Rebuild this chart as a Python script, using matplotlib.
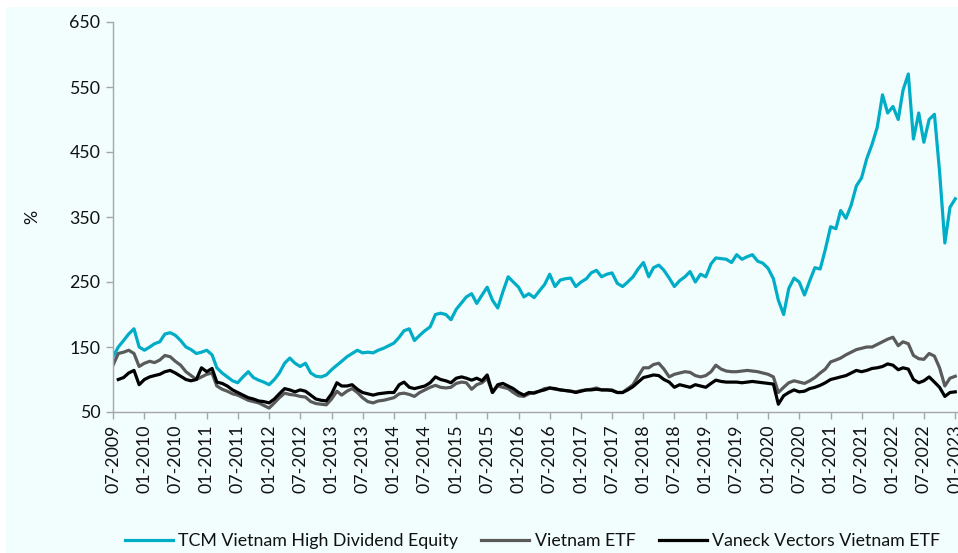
import matplotlib
matplotlib.use("Agg")
import matplotlib.pyplot as plt
import matplotlib.dates as mdates
import numpy as np
import pandas as pd

# monthly readings, Jul 2009 .. Jan 2023
months = pd.date_range("2009-07-01", "2023-01-01", freq="MS")

tcm = [135, 150, 160, 170, 178, 150, 145, 150, 155, 158,
       170, 172, 168, 160, 150, 146, 140, 142, 145, 138,
       118, 110, 104, 98, 95, 104, 112, 103, 99, 96,
       92, 100, 110, 125, 133, 125, 120, 125, 110, 105,
       104, 107, 115, 122, 128, 135, 140, 145, 141, 142,
       141, 145, 148, 152, 156, 165, 175, 178, 160, 168,
       175, 181, 200, 202, 200, 192, 208, 218, 227, 232,
       217, 230, 242, 222, 210, 235, 258, 250, 242, 227,
       232, 226, 236, 246, 262, 243, 253, 255, 256, 243,
       250, 255, 264, 268, 258, 262, 264, 248, 243, 250,
       258, 270, 280, 258, 272, 276, 268, 256, 243, 252,
       258, 266, 250, 262, 258, 278, 287, 286, 285, 280,
       292, 285, 289, 292, 282, 279, 271, 255, 222, 200,
       240, 256, 250, 230, 252, 272, 270, 300, 335, 332,
       360, 348, 368, 398, 410, 440, 462, 488, 538, 510,
       520, 500, 545, 570, 470, 510, 465, 500, 508, 420,
       310, 365, 378]

vn_etf = [122, 140, 142, 145, 140, 120, 125, 128, 126, 130,
          137, 135, 128, 122, 112, 106, 100, 104, 108, 110,
          90, 85, 82, 78, 76, 72, 68, 66, 64, 60,
          56, 64, 72, 79, 77, 76, 74, 73, 66, 63,
          62, 61, 70, 82, 76, 82, 86, 80, 72, 66,
          64, 67, 68, 70, 72, 78, 79, 77, 74, 80,
          84, 88, 91, 88, 87, 88, 94, 96, 95, 85,
          92, 95, 102, 80, 90, 88, 86, 80, 75, 74,
          78, 80, 82, 86, 87, 85, 84, 83, 82, 81,
          83, 84, 85, 87, 84, 84, 84, 80, 80, 86,
          92, 105, 118, 118, 123, 125, 116, 104, 108, 110,
          112, 111, 106, 104, 106, 112, 122, 116, 113, 112,
          112, 113, 114, 113, 112, 110, 108, 104, 80, 88,
          95, 98, 96, 94, 98, 103, 110, 116, 127, 130,
          133, 138, 142, 146, 148, 150, 150, 154, 158, 162,
          165, 152, 158, 155, 137, 132, 131, 140, 136, 118,
          90, 102, 105]

vaneck = [np.nan, 100, 103, 110, 114, 92, 100, 104, 106, 108,
          112, 114, 110, 105, 100, 98, 100, 118, 112, 117,
          96, 94, 90, 84, 80, 76, 72, 70, 67, 66,
          64, 70, 78, 86, 84, 81, 84, 82, 76, 70,
          68, 67, 78, 95, 90, 90, 92, 85, 80, 78,
          76, 78, 79, 80, 80, 92, 96, 88, 86, 88,
          90, 95, 104, 100, 98, 95, 102, 104, 102, 99,
          102, 98, 107, 80, 92, 94, 90, 86, 80, 76,
          80, 79, 82, 84, 87, 86, 84, 83, 82, 80,
          82, 84, 84, 85, 84, 84, 83, 80, 80, 84,
          89, 96, 103, 105, 107, 106, 100, 96, 88, 92,
          90, 88, 92, 90, 88, 94, 99, 97, 96, 96,
          96, 95, 96, 97, 96, 95, 94, 93, 62, 75,
          80, 84, 81, 82, 86, 88, 91, 95, 100, 102,
          104, 106, 110, 114, 112, 114, 117, 118, 120, 124,
          122, 115, 118, 116, 100, 95, 98, 104, 96, 88,
          74, 80, 81]

labels = ["TCM Vietnam High Dividend Equity", "Vietnam ETF", "Vaneck Vectors Vietnam ETF"]
colors = ["#00adc6", "#5a5a5a", "#000000"]

plt.rcParams["font.family"] = ["Lato", "DejaVu Sans"]

bg = "#f2fefe"
fig = plt.figure(figsize=(9.58, 5.53), dpi=100)
fig.patch.set_facecolor(bg)
# thin white strips along the top and left edge
fig.patches.append(plt.Rectangle((0, (553 - 7) / 553), 1, 7 / 553, transform=fig.transFigure,
                                 facecolor="white", edgecolor="none", zorder=-10))
fig.patches.append(plt.Rectangle((0, 0), 6 / 958, 1, transform=fig.transFigure,
                                 facecolor="white", edgecolor="none", zorder=-10))

ax = fig.add_axes([113 / 958, 141 / 553, 845 / 958, 390 / 553])
ax.set_facecolor(bg)

for series, lab, col in zip([tcm, vn_etf, vaneck], labels, colors):
    ax.plot(months, series, color=col, lw=2.3, label=lab)

ax.set_ylim(50, 650)
ax.set_yticks(np.arange(50, 651, 100))
ax.set_xlim(pd.Timestamp("2009-07-01"), pd.Timestamp("2023-01-17"))
ax.xaxis.set_major_locator(mdates.MonthLocator(bymonth=[1, 7]))
ax.xaxis.set_major_formatter(mdates.DateFormatter("%m-%Y"))
plt.setp(ax.get_xticklabels(), rotation=90)

for s in ["top", "right"]:
    ax.spines[s].set_visible(False)
for s in ["left", "bottom"]:
    ax.spines[s].set_color("#a6a6a6")
    ax.spines[s].set_linewidth(1)
ax.tick_params(axis="both", color="#a6a6a6", length=5, width=1,
               labelsize=12.8, labelcolor="#111111", pad=4)

ax.set_ylabel("%", fontsize=12.8, color="#111111")
ax.yaxis.set_label_coords(-0.086, 0.5)

fig.legend(loc="center", bbox_to_anchor=(0.556, 0.022), ncol=3, frameon=False,
           fontsize=12.8, handlelength=2.7, handletextpad=0.3, columnspacing=1.3,
           labelcolor="#111111")

fig.savefig("out.png", dpi=100, facecolor=bg)
